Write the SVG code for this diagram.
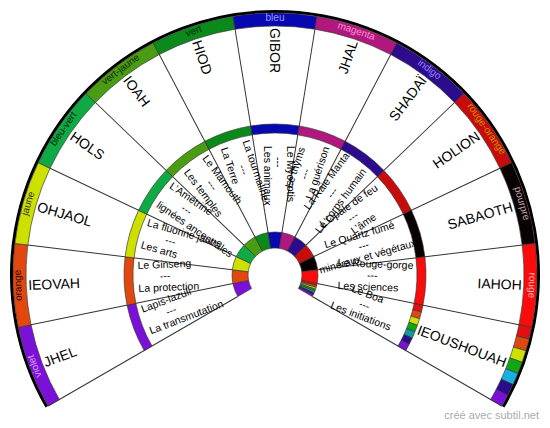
<svg xmlns="http://www.w3.org/2000/svg" width="550" height="428" viewBox="0 0 550 428">
<style>
.sg{stroke:#333;stroke-width:.6}
.nm{font-family:"Liberation Sans",Arial,sans-serif;font-size:14px;fill:#000}
.md{font-family:"Liberation Sans",Arial,sans-serif;font-size:10.5px;fill:#000}
.lb{font-family:"Liberation Sans",Arial,sans-serif;font-size:10px;text-anchor:middle}
.r{text-anchor:end}
#connectors line{stroke:#333;stroke-width:1}
</style>
<defs>
<path id="so" d="M262,0A262,262 0 0,0 248.516,-82.967L236.185,-78.850A249,249 0 0,1 249,0Z"/>
<path id="sm" d="M151,0A151,151 0 0,0 143.229,-47.817L134.692,-44.967A142,142 0 0,1 142,0Z"/>
<path id="si" d="M43,0A43,43 0 0,0 40.787,-13.617L25.610,-8.550A27,27 0 0,1 27,0Z"/>
<path id="ro" d="M262,0A262,262 0 0,0 261.723,-12.056L248.736,-11.458A249,249 0 0,1 249,0Z"/>
<path id="rm" d="M151,0A151,151 0 0,0 150.840,-6.948L141.850,-6.534A142,142 0 0,1 142,0Z"/>
<path id="ri" d="M43,0A43,43 0 0,0 42.954,-1.979L26.971,-1.242A27,27 0 0,1 27,0Z"/>
</defs>
<rect width="550" height="428" fill="#fff"/>
<g id="connectors">
<line x1="43" x2="262" transform="translate(275 275) rotate(-210)"/>
<line x1="43" x2="249" transform="translate(275 275) rotate(-191.538)"/>
<line x1="43" x2="249" transform="translate(275 275) rotate(-173.077)"/>
<line x1="43" x2="249" transform="translate(275 275) rotate(-154.615)"/>
<line x1="43" x2="249" transform="translate(275 275) rotate(-136.154)"/>
<line x1="43" x2="249" transform="translate(275 275) rotate(-117.692)"/>
<line x1="43" x2="249" transform="translate(275 275) rotate(-99.231)"/>
<line x1="43" x2="249" transform="translate(275 275) rotate(-80.769)"/>
<line x1="43" x2="249" transform="translate(275 275) rotate(-62.308)"/>
<line x1="43" x2="249" transform="translate(275 275) rotate(-43.846)"/>
<line x1="43" x2="249" transform="translate(275 275) rotate(-25.385)"/>
<line x1="43" x2="249" transform="translate(275 275) rotate(-6.923)"/>
<line x1="43" x2="249" transform="translate(275 275) rotate(11.538)"/>
<line x1="43" x2="262" transform="translate(275 275) rotate(30)"/>
</g>
<path id="rim" d="M46.803,406.75A263.5,263.5 0 1,1 503.197,406.75" fill="none" stroke="#000" stroke-width="3"/>

<g id="s-jhel">
<use href="#so" class="sg" fill="#7b10d8" transform="translate(275 275) rotate(-191.538)"/>
<use href="#sm" class="sg" fill="#7b10d8" transform="translate(275 275) rotate(-191.538)"/>
<use href="#si" class="sg" fill="#7b10d8" transform="translate(275 275) rotate(-191.538)"/>
<text class="lb" fill="#dca0ff" transform="translate(275 275) rotate(-110.769)" y="-254">violet</text>
<text class="nm" transform="translate(275 275) rotate(-20.769)" x="-247" y="5">JHEL</text>
<text class="md" transform="translate(275 275) rotate(-20.769)"><tspan x="-137" y="-11.5">Lapis-lazuli</tspan><tspan x="-115" y="0">---</tspan><tspan x="-137" y="11.5">La transmutation</tspan></text>
</g>

<g id="s-ieovah">
<use href="#so" class="sg" fill="#e04810" transform="translate(275 275) rotate(-173.077)"/>
<use href="#sm" class="sg" fill="#e04810" transform="translate(275 275) rotate(-173.077)"/>
<use href="#si" class="sg" fill="#e04810" transform="translate(275 275) rotate(-173.077)"/>
<text class="lb" fill="#2a0a00" transform="translate(275 275) rotate(-92.308)" y="-254">orange</text>
<text class="nm" transform="translate(275 275) rotate(-2.308)" x="-247" y="5">IEOVAH</text>
<text class="md" transform="translate(275 275) rotate(-2.308)"><tspan x="-137" y="-11.5">Le Ginseng</tspan><tspan x="-115" y="0">---</tspan><tspan x="-137" y="11.5">La protection</tspan></text>
</g>

<g id="s-ohjaol">
<use href="#so" class="sg" fill="#cde000" transform="translate(275 275) rotate(-154.615)"/>
<use href="#sm" class="sg" fill="#cde000" transform="translate(275 275) rotate(-154.615)"/>
<use href="#si" class="sg" fill="#cde000" transform="translate(275 275) rotate(-154.615)"/>
<text class="lb" fill="#333" transform="translate(275 275) rotate(-73.846)" y="-254">jaune</text>
<text class="nm" transform="translate(275 275) rotate(16.154)" x="-247" y="5">OHJAOL</text>
<text class="md" transform="translate(275 275) rotate(16.154)"><tspan x="-137" y="-11.5">La fluorine jaune</tspan><tspan x="-115" y="0">---</tspan><tspan x="-137" y="11.5">Les arts</tspan></text>
</g>

<g id="s-hols">
<use href="#so" class="sg" fill="#10aa44" transform="translate(275 275) rotate(-136.154)"/>
<use href="#sm" class="sg" fill="#10aa44" transform="translate(275 275) rotate(-136.154)"/>
<use href="#si" class="sg" fill="#10aa44" transform="translate(275 275) rotate(-136.154)"/>
<text class="lb" fill="#002a10" transform="translate(275 275) rotate(-55.385)" y="-254">bleu-vert</text>
<text class="nm" transform="translate(275 275) rotate(34.615)" x="-247" y="5">HOLS</text>
<text class="md" transform="translate(275 275) rotate(34.615)"><tspan x="-137" y="-11.5">L’Amétrine</tspan><tspan x="-115" y="0">---</tspan><tspan x="-137" y="11.5">lignées ancestrales</tspan></text>
</g>

<g id="s-ioah">
<use href="#so" class="sg" fill="#4a9c12" transform="translate(275 275) rotate(-117.692)"/>
<use href="#sm" class="sg" fill="#4a9c12" transform="translate(275 275) rotate(-117.692)"/>
<use href="#si" class="sg" fill="#4a9c12" transform="translate(275 275) rotate(-117.692)"/>
<text class="lb" fill="#102a00" transform="translate(275 275) rotate(-36.923)" y="-254">vert-jaune</text>
<text class="nm" transform="translate(275 275) rotate(53.077)" x="-247" y="5">IOAH</text>
<text class="md" transform="translate(275 275) rotate(53.077)"><tspan x="-137" y="-11.5">Le Mamouth</tspan><tspan x="-115" y="0">---</tspan><tspan x="-137" y="11.5">Les temples</tspan></text>
</g>

<g id="s-hiod">
<use href="#so" class="sg" fill="#0b8a1c" transform="translate(275 275) rotate(-99.231)"/>
<use href="#sm" class="sg" fill="#0b8a1c" transform="translate(275 275) rotate(-99.231)"/>
<use href="#si" class="sg" fill="#0b8a1c" transform="translate(275 275) rotate(-99.231)"/>
<text class="lb" fill="#002a08" transform="translate(275 275) rotate(-18.462)" y="-254">vert</text>
<text class="nm" transform="translate(275 275) rotate(71.538)" x="-247" y="5">HIOD</text>
<text class="md" transform="translate(275 275) rotate(71.538)"><tspan x="-137" y="-11.5">La tourmaline</tspan><tspan x="-115" y="0">---</tspan><tspan x="-137" y="11.5">La Terre</tspan></text>
</g>

<g id="s-gibor">
<use href="#so" class="sg" fill="#0808b0" transform="translate(275 275) rotate(-80.769)"/>
<use href="#sm" class="sg" fill="#0808b0" transform="translate(275 275) rotate(-80.769)"/>
<use href="#si" class="sg" fill="#0808b0" transform="translate(275 275) rotate(-80.769)"/>
<text class="lb" fill="#9a9aff" transform="translate(275 275)" y="-254">bleu</text>
<text class="nm" transform="translate(275 275) rotate(90)" x="-247" y="5">GIBOR</text>
<text class="md" transform="translate(275 275) rotate(90)"><tspan x="-129" y="-11.5">Le Myosotis</tspan><tspan x="-118" y="0">---</tspan><tspan x="-129" y="11.5">Les animaux</tspan></text>
</g>

<g id="s-jhal">
<use href="#so" class="sg" fill="#b0187e" transform="translate(275 275) rotate(-62.308)"/>
<use href="#sm" class="sg" fill="#b0187e" transform="translate(275 275) rotate(-62.308)"/>
<use href="#si" class="sg" fill="#b0187e" transform="translate(275 275) rotate(-62.308)"/>
<text class="lb" fill="#ff90d0" transform="translate(275 275) rotate(18.462)" y="-254">magenta</text>
<text class="nm r" transform="translate(275 275) rotate(-71.538)" x="247" y="5">JHAL</text>
<text class="md" transform="translate(275 275) rotate(-71.538)"><tspan x="87" y="-11.5">Le thyms</tspan><tspan x="100" y="0">---</tspan><tspan x="83" y="11.5">La guérison</tspan></text>
</g>

<g id="s-shadai">
<use href="#so" class="sg" fill="#2c0c8c" transform="translate(275 275) rotate(-43.846)"/>
<use href="#sm" class="sg" fill="#2c0c8c" transform="translate(275 275) rotate(-43.846)"/>
<use href="#si" class="sg" fill="#2c0c8c" transform="translate(275 275) rotate(-43.846)"/>
<text class="lb" fill="#9a80ff" transform="translate(275 275) rotate(36.923)" y="-254">indigo</text>
<text class="nm r" transform="translate(275 275) rotate(-53.077)" x="247" y="5">SHADAÏ</text>
<text class="md" transform="translate(275 275) rotate(-53.077)"><tspan x="72" y="-11.5">La Raie Manta</tspan><tspan x="95" y="0">---</tspan><tspan x="60" y="11.5">Le corps humain</tspan></text>
</g>

<g id="s-holion">
<use href="#so" class="sg" fill="#c80c0c" transform="translate(275 275) rotate(-25.385)"/>
<use href="#sm" class="sg" fill="#c80c0c" transform="translate(275 275) rotate(-25.385)"/>
<use href="#si" class="sg" fill="#c80c0c" transform="translate(275 275) rotate(-25.385)"/>
<text class="lb" fill="#c89000" transform="translate(275 275) rotate(55.385)" y="-254">rouge-orange</text>
<text class="nm r" transform="translate(275 275) rotate(-34.615)" x="247" y="5">HOLION</text>
<text class="md" transform="translate(275 275) rotate(-34.615)"><tspan x="66" y="-11.5">L’Opale de feu</tspan><tspan x="92" y="0">---</tspan><tspan x="88" y="11.5">L’âme</tspan></text>
</g>

<g id="s-sabaoth">
<use href="#so" class="sg" fill="#0a0202" transform="translate(275 275) rotate(-6.923)"/>
<use href="#sm" class="sg" fill="#0a0202" transform="translate(275 275) rotate(-6.923)"/>
<use href="#si" class="sg" fill="#0a0202" transform="translate(275 275) rotate(-6.923)"/>
<text class="lb" fill="#c8a8b8" transform="translate(275 275) rotate(73.846)" y="-254">pourpre</text>
<text class="nm r" transform="translate(275 275) rotate(-16.154)" x="247" y="5">SABAOTH</text>
<text class="md" transform="translate(275 275) rotate(-16.154)"><tspan x="56" y="-11.5">Le Quartz fumé</tspan><tspan x="88" y="0">---</tspan><tspan x="44" y="11.5">minéraux et végétaux</tspan></text>
</g>

<g id="s-iahoh">
<use href="#so" class="sg" fill="#fa0c0c" transform="translate(275 275) rotate(11.538)"/>
<use href="#sm" class="sg" fill="#fa0c0c" transform="translate(275 275) rotate(11.538)"/>
<use href="#si" class="sg" fill="#fa0c0c" transform="translate(275 275) rotate(11.538)"/>
<text class="lb" fill="#ffb0b0" transform="translate(275 275) rotate(92.308)" y="-254">rouge</text>
<text class="nm r" transform="translate(275 275) rotate(2.308)" x="247" y="5">IAHOH</text>
<text class="md" transform="translate(275 275) rotate(2.308)"><tspan x="62" y="-11.5">Le Rouge-gorge</tspan><tspan x="92" y="0">---</tspan><tspan x="63" y="11.5">Les sciences</tspan></text>
</g>

<g id="s-ieoushouah">
<g class="sg">
<g fill="#e01010"><use href="#ro" transform="translate(275 275) rotate(14.176)"/><use href="#rm" transform="translate(275 275) rotate(14.176)"/><use href="#ri" transform="translate(275 275) rotate(14.176)"/></g>
<g fill="#e04810"><use href="#ro" transform="translate(275 275) rotate(16.813)"/><use href="#rm" transform="translate(275 275) rotate(16.813)"/><use href="#ri" transform="translate(275 275) rotate(16.813)"/></g>
<g fill="#cde000"><use href="#ro" transform="translate(275 275) rotate(19.451)"/><use href="#rm" transform="translate(275 275) rotate(19.451)"/><use href="#ri" transform="translate(275 275) rotate(19.451)"/></g>
<g fill="#10a810"><use href="#ro" transform="translate(275 275) rotate(22.088)"/><use href="#rm" transform="translate(275 275) rotate(22.088)"/><use href="#ri" transform="translate(275 275) rotate(22.088)"/></g>
<g fill="#18b0e0"><use href="#ro" transform="translate(275 275) rotate(24.725)"/></g>
<g fill="#109aa0"><use href="#rm" transform="translate(275 275) rotate(24.725)"/><use href="#ri" transform="translate(275 275) rotate(24.725)"/></g>
<g fill="#2c0c8c"><use href="#ro" transform="translate(275 275) rotate(27.363)"/><use href="#rm" transform="translate(275 275) rotate(27.363)"/><use href="#ri" transform="translate(275 275) rotate(27.363)"/></g>
<g fill="#7b10d8"><use href="#ro" transform="translate(275 275) rotate(30)"/><use href="#rm" transform="translate(275 275) rotate(30)"/><use href="#ri" transform="translate(275 275) rotate(30)"/></g>
</g>
<text class="nm r" transform="translate(275 275) rotate(20.769)" x="247" y="5">IEOUSHOUAH</text>
<text class="md" transform="translate(275 275) rotate(20.769)"><tspan x="77" y="-11.5">Le Boa</tspan><tspan x="89" y="0">---</tspan><tspan x="63" y="11.5">Les initiations</tspan></text>
</g>

<text x="539" y="419" text-anchor="end" font-family="Liberation Sans, Arial, sans-serif" font-size="11" fill="#aaa">créé avec subtil.net</text>
</svg>
